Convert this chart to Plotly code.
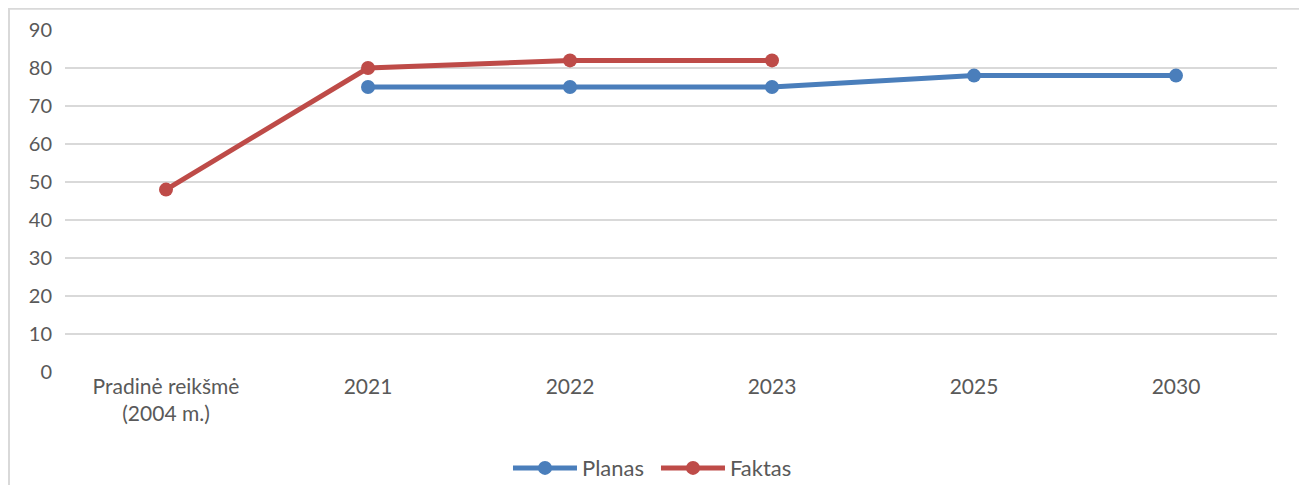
import plotly.graph_objects as go

categories = ["Pradinė reikšmė<br>(2004 m.)", "2021", "2022", "2023", "2025", "2030"]
planas = [None, 75, 75, 75, 78, 78]
faktas = [48, 80, 82, 82, None, None]
y_ticks = list(range(0, 100, 10))

font = dict(family="Lato, Carlito, sans-serif", size=20, color="#595959")
xfont = dict(font, size=21)
lfont = dict(font, size=22)

fig = go.Figure()
fig.add_trace(go.Scatter(
    x=categories, y=planas, mode="lines+markers", name="Planas",
    line=dict(color="#4A7EBB", width=5), marker=dict(size=14, color="#4A7EBB"),
))
fig.add_trace(go.Scatter(
    x=categories, y=faktas, mode="lines+markers", name="Faktas",
    line=dict(color="#BE4B48", width=5), marker=dict(size=14, color="#BE4B48"),
))

# chart border (page has an 8px offset, so keep the left/top edges just inside)
fig.add_shape(type="rect", xref="paper", yref="paper",
              x0=-0.0462, x1=1.019, y0=-0.4, y1=1.062,
              line=dict(color="#D9D9D9", width=2))

fig.update_layout(
    width=1307, height=485,
    margin=dict(l=57, r=38, t=22, b=121, autoexpand=False),
    paper_bgcolor="white", plot_bgcolor="white",
    font=font,
    showlegend=True,
    legend=dict(orientation="h", x=0.3655, xanchor="left", y=-0.281, yanchor="middle",
                font=lfont, itemwidth=64, entrywidth=69, entrywidthmode="pixels"),
    xaxis=dict(type="category", range=[-0.5, 5.5], showgrid=False, zeroline=False,
               showline=False, tickfont=xfont, ticks="", automargin=False),
    yaxis=dict(range=[0, 90], tickvals=y_ticks, showgrid=True, gridcolor="#D9D9D9",
               gridwidth=1.5, zeroline=False, showline=False, tickfont=font,
               ticks="outside", ticklen=8, tickcolor="rgba(0,0,0,0)", automargin=False),
)
fig.write_html("out.html")
